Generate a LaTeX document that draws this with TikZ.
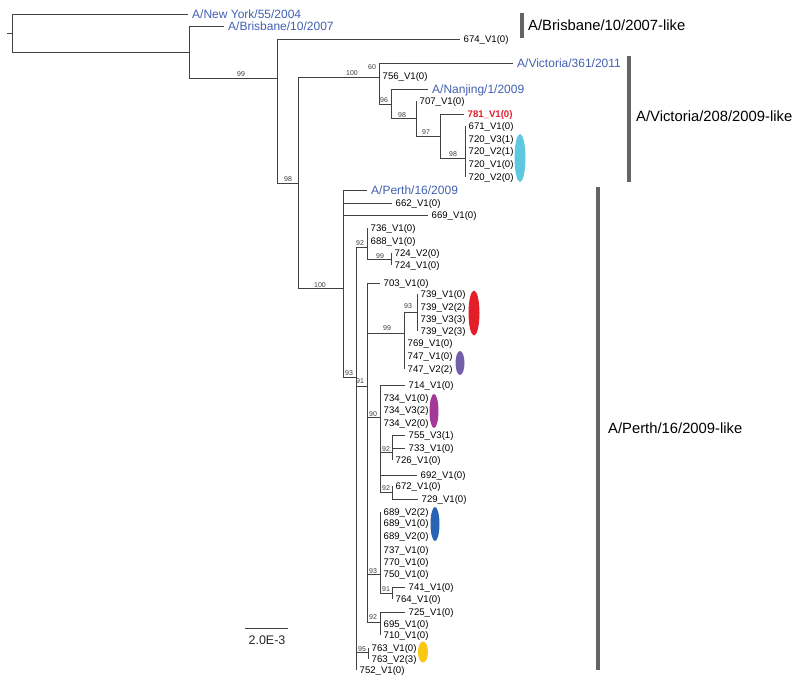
\documentclass[tikz,border=0pt]{standalone}
\usepackage{fontspec}
\setmainfont{Liberation Sans}
\usetikzlibrary{shapes.geometric}
\definecolor{treeline}{RGB}{65,65,65}
\definecolor{refblue}{RGB}{66,96,178}
\definecolor{redt}{RGB}{228,30,45}
\definecolor{bsgray}{RGB}{60,60,60}
\definecolor{bargray}{RGB}{100,100,100}
\definecolor{ecyan}{RGB}{95,200,225}
\definecolor{ered}{RGB}{228,30,40}
\definecolor{epurple}{RGB}{115,95,170}
\definecolor{emag}{RGB}{165,55,150}
\definecolor{eblue}{RGB}{40,100,180}
\definecolor{eyellow}{RGB}{250,200,20}
\begin{document}
\begin{tikzpicture}[x=1pt,y=-1pt,
  br/.style={draw=treeline, line width=0.85pt},
  leaf/.style={anchor=west, inner xsep=3.5pt, inner ysep=0pt, text height=6.8pt, text depth=0pt, font=\fontsize{9.6}{10}\selectfont, text=black},
  refl/.style={leaf, inner xsep=4pt, text height=8.6pt, font=\fontsize{12}{13}\selectfont, text=refblue},
  bs/.style={inner sep=0pt, font=\fontsize{7}{8}\selectfont, text=bsgray},
  bar/.style={draw=bargray, line width=3.6pt},
  clade/.style={anchor=west, inner sep=0pt, font=\fontsize{14.8}{16}\selectfont, text=black},
  blob/.style={ellipse, draw=none, inner sep=0pt}]
\useasboundingbox (0,0) rectangle (800,685);

% ---------- internal nodes ----------
\coordinate (rt) at (7,33);
\coordinate (root) at (12,33);
\coordinate (nA) at (189,52);
\coordinate (n99a) at (277,78);
\coordinate (n98a) at (298,183);
\coordinate (n100a) at (379,77);
\coordinate (n96) at (391,104);
\coordinate (n98b) at (416,118);
\coordinate (n97) at (440,136);
\coordinate (n98c) at (465,158);
\coordinate (n100b) at (343,288);
\coordinate (n93a) at (356,377);
\coordinate (n92a) at (367,247);
\coordinate (n99b) at (391,259);
\coordinate (n91) at (367,386);
\coordinate (n99c) at (404,333);
\coordinate (n93c) at (417,312);
\coordinate (n90) at (380,417);
\coordinate (n92b) at (392,452);
\coordinate (n92c) at (392,492);
\coordinate (n93b) at (380,574);
\coordinate (n91b) at (392,593);
\coordinate (n92d) at (380,622);
\coordinate (n95) at (368,652);

% ---------- leaves ----------
\node[refl] (ny) at (188,14) {A/New York/55/2004};
\node[refl] (bris) at (224,26) {A/Brisbane/10/2007};
\node[leaf] (l674) at (460,39) {674\_V1(0)};
\node[refl] (vic) at (513,63) {A/Victoria/361/2011};
\node[leaf] (l756) at (379,76) {756\_V1(0)};
\node[refl] (nanj) at (428,89) {A/Nanjing/1/2009};
\node[leaf] (l707) at (416,101) {707\_V1(0)};
\node[leaf, text=redt, font=\fontsize{9.6}{10}\selectfont\bfseries] (l781) at (464,114) {781\_V1(0)};
\node[leaf] (l671) at (465,126) {671\_V1(0)};
\node[leaf] (l720a) at (465,139) {720\_V3(1)};
\node[leaf] (l720b) at (465,151) {720\_V2(1)};
\node[leaf] (l720c) at (465,164) {720\_V1(0)};
\node[leaf] (l720d) at (465,177) {720\_V2(0)};

\node[refl] (perth) at (367,190) {A/Perth/16/2009};
\node[leaf] (l662) at (392,203) {662\_V1(0)};
\node[leaf] (l669) at (428,215) {669\_V1(0)};
\node[leaf] (l736) at (367,228) {736\_V1(0)};
\node[leaf] (l688) at (367,241) {688\_V1(0)};
\node[leaf] (l724a) at (391,253) {724\_V2(0)};
\node[leaf] (l724b) at (391,265) {724\_V1(0)};
\node[leaf] (l703) at (380,283) {703\_V1(0)};
\node[leaf] (l739a) at (417,294) {739\_V1(0)};
\node[leaf] (l739b) at (417,307) {739\_V2(2)};
\node[leaf] (l739c) at (417,319) {739\_V3(3)};
\node[leaf] (l739d) at (417,331) {739\_V2(3)};
\node[leaf] (l769) at (404,343) {769\_V1(0)};
\node[leaf] (l747a) at (404,356) {747\_V1(0)};
\node[leaf] (l747b) at (404,369) {747\_V2(2)};
\node[leaf] (l714) at (405,385) {714\_V1(0)};
\node[leaf] (l734a) at (380,398) {734\_V1(0)};
\node[leaf] (l734b) at (380,410) {734\_V3(2)};
\node[leaf] (l734c) at (380,423) {734\_V2(0)};
\node[leaf] (l755) at (405,435) {755\_V3(1)};
\node[leaf] (l733) at (405,448) {733\_V1(0)};
\node[leaf] (l726) at (392,460) {726\_V1(0)};
\node[leaf] (l692) at (417,475) {692\_V1(0)};
\node[leaf] (l672) at (392,486) {672\_V1(0)};
\node[leaf] (l729) at (418,499) {729\_V1(0)};
\node[leaf] (l689a) at (380,512) {689\_V2(2)};
\node[leaf] (l689b) at (380,523) {689\_V1(0)};
\node[leaf] (l689c) at (380,536) {689\_V2(0)};
\node[leaf] (l737) at (380,550) {737\_V1(0)};
\node[leaf] (l770) at (380,562) {770\_V1(0)};
\node[leaf] (l750) at (380,574) {750\_V1(0)};
\node[leaf] (l741) at (405,587) {741\_V1(0)};
\node[leaf] (l764) at (392,599) {764\_V1(0)};
\node[leaf] (l725) at (405,612) {725\_V1(0)};
\node[leaf] (l695) at (380,624) {695\_V1(0)};
\node[leaf] (l710) at (380,635) {710\_V1(0)};
\node[leaf] (l763a) at (368,648) {763\_V1(0)};
\node[leaf] (l763b) at (368,659) {763\_V2(3)};
\node[leaf] (l752) at (356,670) {752\_V1(0)};

% ---------- branches ----------
\draw[br] (rt) -- (root);
\draw[br] (root) |- (ny.west);
\draw[br] (root) |- (nA);
\draw[br] (nA) |- (bris.west);
\draw[br] (nA) |- (n99a);
\draw[br] (n99a) |- (l674.west);
\draw[br] (n99a) |- (n98a);
\draw[br] (n98a) |- (n100a);
\draw[br] (n98a) |- (n100b);
\draw[br] (n100a) |- (vic.west);
\draw[br] (n100a) |- (l756.west);
\draw[br] (n100a) |- (n96);
\draw[br] (n96) |- (nanj.west);
\draw[br] (n96) |- (n98b);
\draw[br] (n98b) |- (l707.west);
\draw[br] (n98b) |- (n97);
\draw[br] (n97) |- (l781.west);
\draw[br] (n97) |- (n98c);
\foreach \l in {l671,l720a,l720b,l720c,l720d} \draw[br] (n98c) |- (\l.west);

\foreach \l in {perth,l662,l669} \draw[br] (n100b) |- (\l.west);
\draw[br] (n100b) |- (n93a);
\draw[br] (n93a) |- (n92a);
\draw[br] (n93a) |- (n91);
\draw[br] (n93a) |- (n95);
\draw[br] (n93a) |- (l752.west);
\foreach \l in {l736,l688} \draw[br] (n92a) |- (\l.west);
\draw[br] (n92a) |- (n99b);
\foreach \l in {l724a,l724b} \draw[br] (n99b) |- (\l.west);
\draw[br] (n91) |- (l703.west);
\draw[br] (n91) |- (n99c);
\draw[br] (n91) |- (n90);
\draw[br] (n91) |- (n93b);
\draw[br] (n91) |- (n92d);
\draw[br] (n99c) |- (n93c);
\foreach \l in {l769,l747a,l747b} \draw[br] (n99c) |- (\l.west);
\foreach \l in {l739a,l739b,l739c,l739d} \draw[br] (n93c) |- (\l.west);
\foreach \l in {l714,l734a,l734b,l734c,l692} \draw[br] (n90) |- (\l.west);
\draw[br] (n90) |- (n92b);
\draw[br] (n90) |- (n92c);
\foreach \l in {l755,l733,l726} \draw[br] (n92b) |- (\l.west);
\foreach \l in {l672,l729} \draw[br] (n92c) |- (\l.west);
\foreach \l in {l689a,l689b,l689c,l737,l770,l750} \draw[br] (n93b) |- (\l.west);
\draw[br] (n93b) |- (n91b);
\foreach \l in {l741,l764} \draw[br] (n91b) |- (\l.west);
\foreach \l in {l725,l695,l710} \draw[br] (n92d) |- (\l.west);
\foreach \l in {l763a,l763b} \draw[br] (n95) |- (\l.west);

% ---------- bootstrap values ----------
\node[bs] (b1) at (241,74) {99};
\node[bs] (b2) at (288,179) {98};
\node[bs] (b3) at (352,73) {100};
\node[bs] (b4) at (372,67) {60};
\node[bs] (b5) at (384,100) {96};
\node[bs] (b6) at (402,115) {98};
\node[bs] (b7) at (426,132) {97};
\node[bs] (b8) at (453,154) {98};
\node[bs] (b9) at (320,285) {100};
\node[bs] (b10) at (360,243) {92};
\node[bs] (b11) at (380,256) {99};
\node[bs] (b12) at (408,306) {93};
\node[bs] (b13) at (387,328) {99};
\node[bs] (b14) at (349,373) {93};
\node[bs] (b15) at (360,381) {91};
\node[bs] (b16) at (373,414) {90};
\node[bs] (b17) at (386,449) {92};
\node[bs] (b18) at (386,488) {92};
\node[bs] (b19) at (373,571) {93};
\node[bs] (b20) at (386,589) {91};
\node[bs] (b21) at (373,617) {92};
\node[bs] (b22) at (362,649) {95};

% ---------- coloured marks ----------
\node[blob, fill=ecyan, minimum width=11pt, minimum height=48pt] (e1) at (520,158) {};
\node[blob, fill=ered, minimum width=11pt, minimum height=45pt] (e2) at (474,313) {};
\node[blob, fill=epurple, minimum width=9pt, minimum height=24pt] (e3) at (460,363) {};
\node[blob, fill=emag, minimum width=9pt, minimum height=34pt] (e4) at (434,411) {};
\node[blob, fill=eblue, minimum width=9pt, minimum height=34pt] (e5) at (435,524) {};
\node[blob, fill=eyellow, minimum width=10pt, minimum height=21pt] (e6) at (423,652) {};

% ---------- clade bars ----------
\coordinate (c1t) at (522,13); \coordinate (c1b) at (522,38);
\coordinate (c2t) at (629,56); \coordinate (c2b) at (629,182);
\coordinate (c3t) at (598,187); \coordinate (c3b) at (598,670);
\draw[bar] (c1t) -- (c1b);
\draw[bar] (c2t) -- (c2b);
\draw[bar] (c3t) -- (c3b);
\node[clade] (t1) at (528,25) {A/Brisbane/10/2007-like};
\node[clade] (t2) at (636,116) {A/Victoria/208/2009-like};
\node[clade] (t3) at (608,428) {A/Perth/16/2009-like};

% ---------- scale bar ----------
\coordinate (s1) at (245,628);
\coordinate (s2) at (288,628);
\draw[br] (s1) -- (s2);
\node[inner sep=0pt, font=\fontsize{12.5}{14}\selectfont, text=black!85] (sl) at (267,640) {2.0E-3};
\end{tikzpicture}
\end{document}
